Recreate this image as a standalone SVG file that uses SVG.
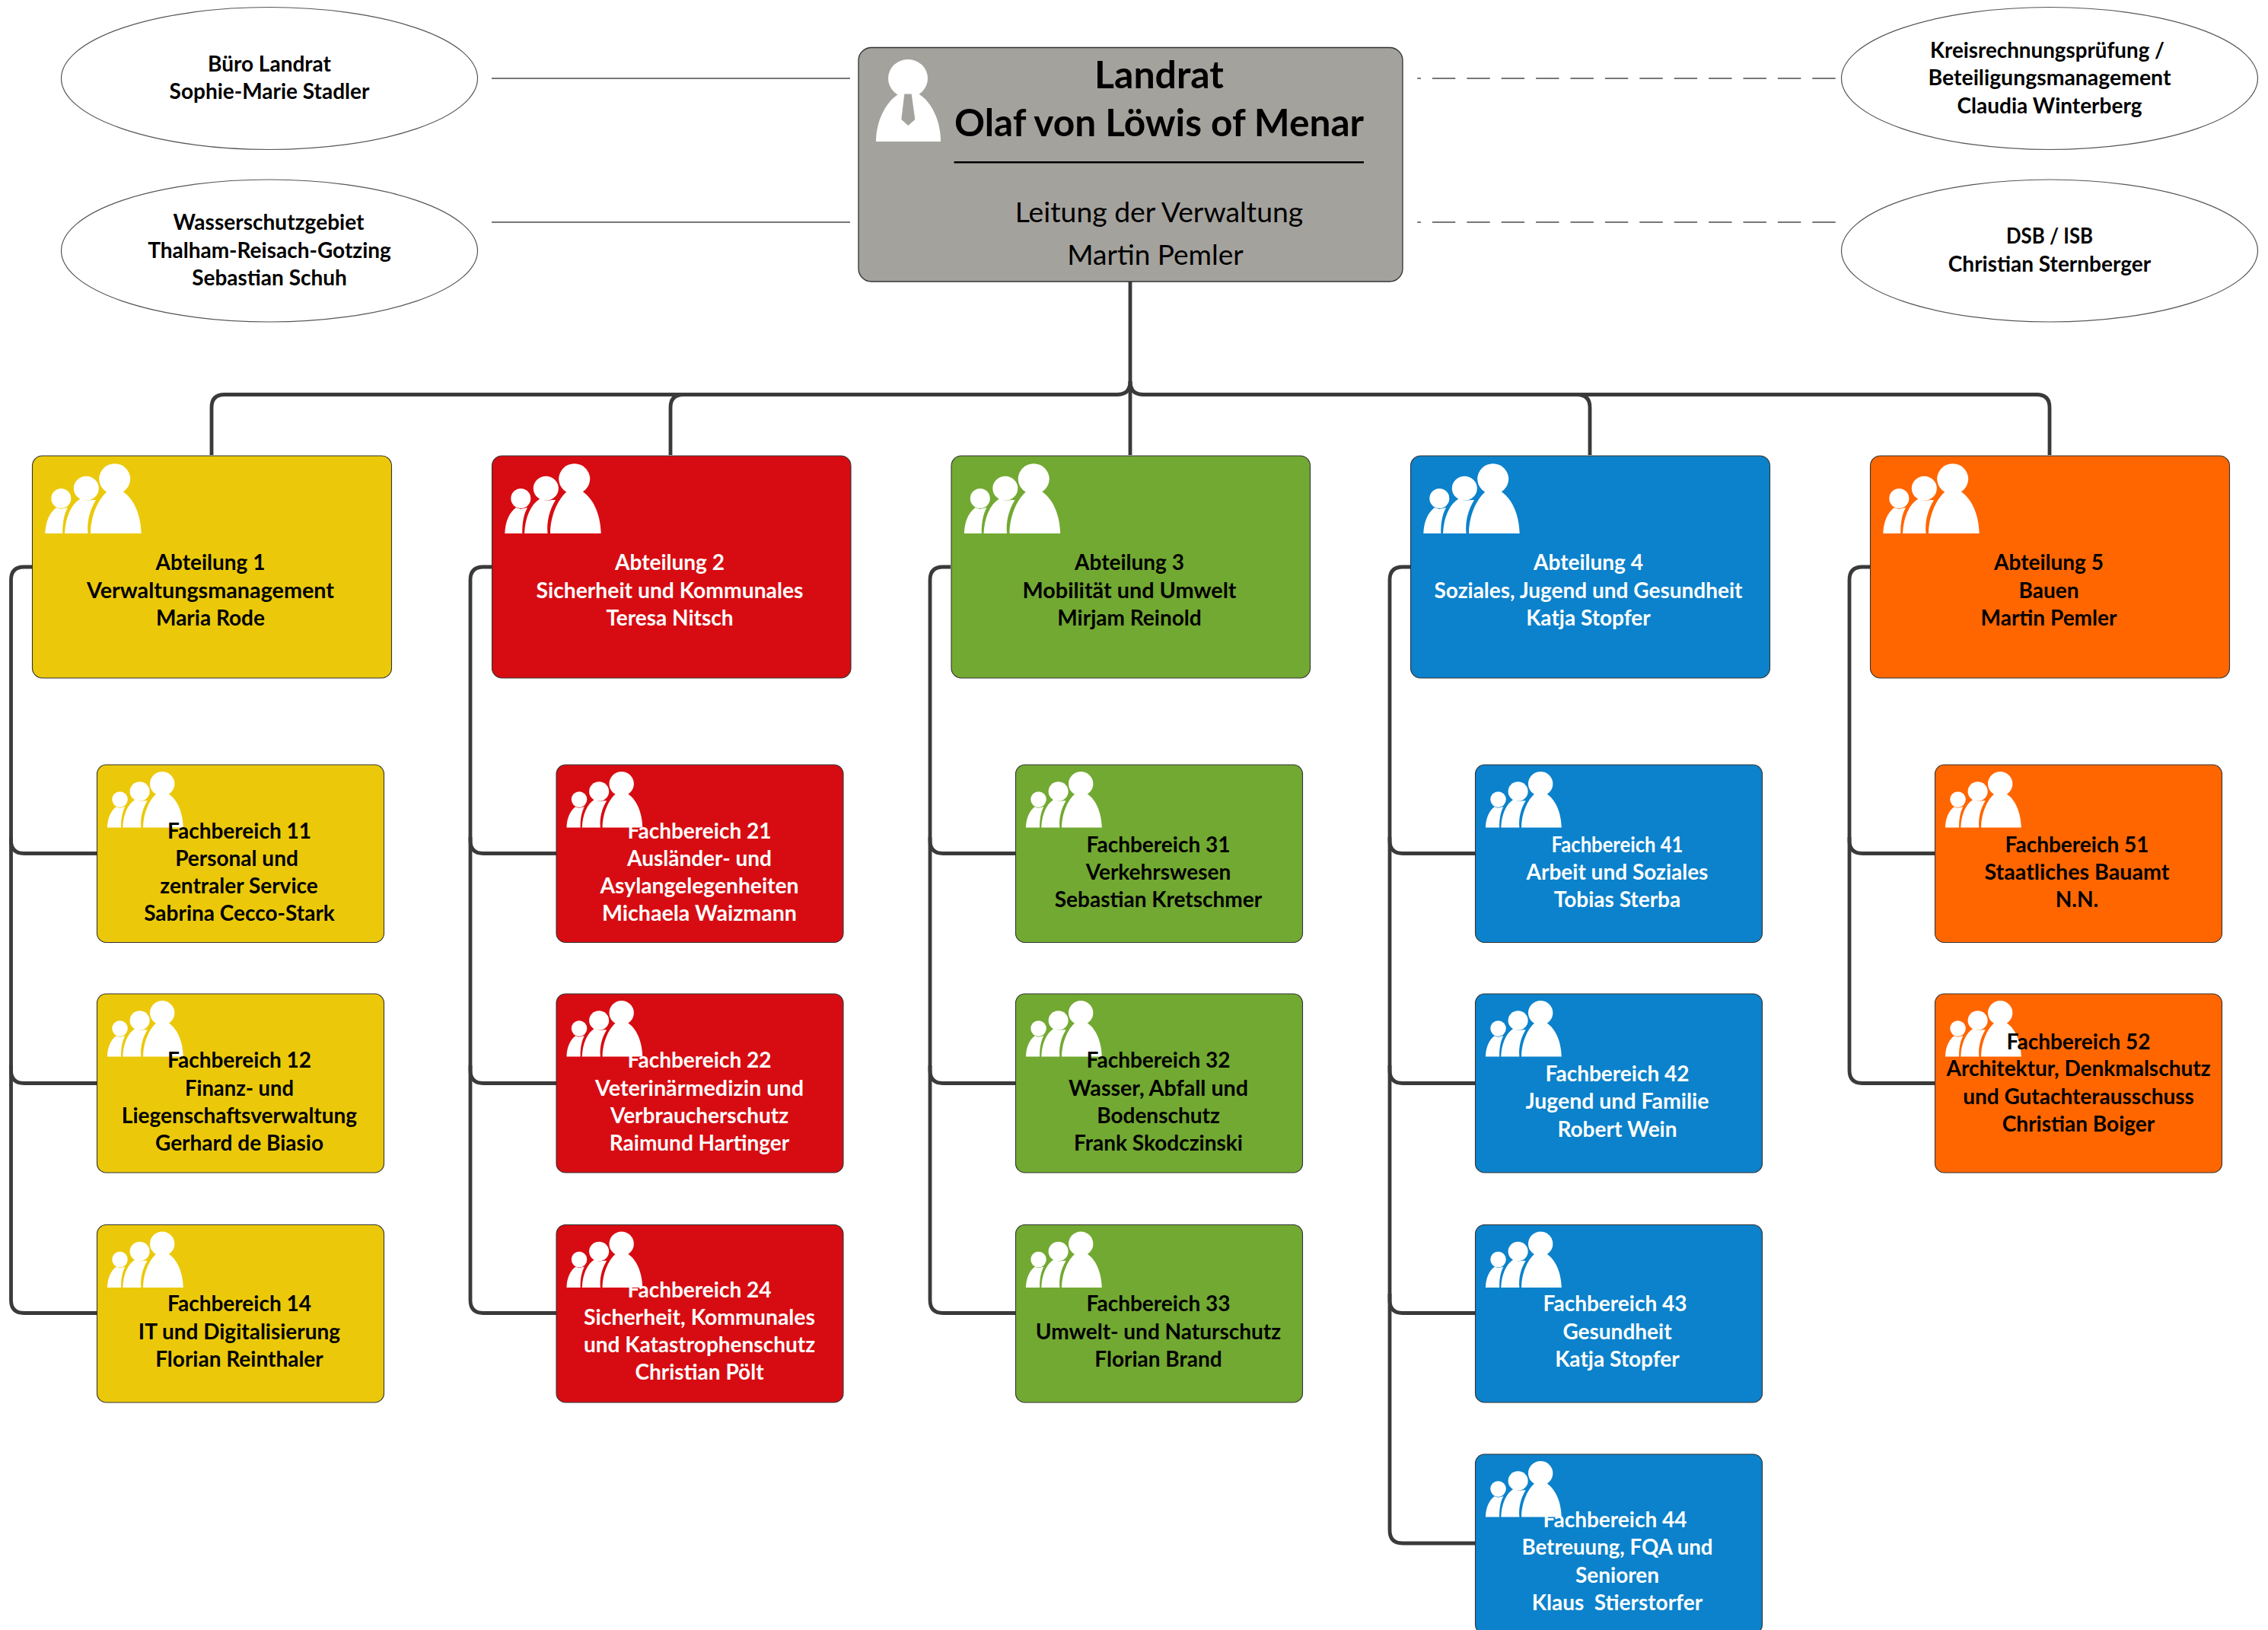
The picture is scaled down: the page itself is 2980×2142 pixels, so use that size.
<svg xmlns="http://www.w3.org/2000/svg" xmlns:xlink="http://www.w3.org/1999/xlink" width="2980" height="2142" viewBox="0 0 2980 2142">
<style>
text{font-family:"Lato","Open Sans","Liberation Sans",sans-serif;text-anchor:middle;transform:translateY(1.6px)}
.t{font-size:28px;font-weight:700}
.k{fill:#000}
.w{fill:#fff}
.box{stroke:#333;stroke-width:1.1}
.y{fill:#ebc90a}.r{fill:#d70c12}.g{fill:#72a932}.b{fill:#0b82cb}.o{fill:#ff6600}
.el{fill:#fff;stroke:#555;stroke-width:1.2}
.c{fill:none;stroke:#3a3a3a;stroke-width:4.8}
.s{fill:none;stroke:#777;stroke-width:2}
.d{fill:none;stroke:#777;stroke-width:2;stroke-dasharray:30.4 15;stroke-dashoffset:25.8}
</style>
<defs>
<g id="people" fill="#fff">
<ellipse cx="30.3" cy="55" rx="13" ry="13"/>
<path d="M9.3 101C10 85 15 74 24 67L30 69L39 67C34 76 32 88 32.3 101Z"/>
<ellipse cx="63.3" cy="41.7" rx="16.5" ry="16"/>
<path d="M35 101C36 80 43 63 56 55L63 58L72 57L76 57C68 70 64 85 65.5 101Z"/>
<ellipse cx="100.7" cy="29.3" rx="20.5" ry="20"/>
<path d="M69 101C69 80 78 56 92 45L100 47L110 45C125 54 135 75 135.7 101Z"/>
</g>
</defs>
<rect width="2980" height="2142" fill="#fff"/>
<g id="connectors">
<path class="s" d="M646 103H1117"/>
<path class="s" d="M646 292H1117"/>
<path class="d" d="M1862.3 103H2413"/>
<path class="d" d="M1862.3 292H2413"/>
<path class="c" d="M1485 370V598"/>
<path class="c" d="M278 598V535.5Q278 518.5 295 518.5H1468Q1485 518.5 1485 501"/>
<path class="c" d="M881 598V535.5Q881 518.5 898 518.5H1468"/>
<path class="c" d="M2693 598V535.5Q2693 518.5 2676 518.5H1502Q1485 518.5 1485 501"/>
<path class="c" d="M2089 598V535.5Q2089 518.5 2072 518.5H1502"/>
<path class="c" d="M42 745H31.5Q14.5 745 14.5 762V1104.5Q14.5 1121.5 31.5 1121.5H127.5"/>
<path class="c" d="M14.5 1100V1406.5Q14.5 1423.5 31.5 1423.5H127.5"/>
<path class="c" d="M14.5 1400V1708.5Q14.5 1725.5 31.5 1725.5H127.5"/>
<path class="c" d="M646 745H635Q618 745 618 762V1104.5Q618 1121.5 635 1121.5H731"/>
<path class="c" d="M618 1100V1406.5Q618 1423.5 635 1423.5H731"/>
<path class="c" d="M618 1400V1708.5Q618 1725.5 635 1725.5H731"/>
<path class="c" d="M1249 745H1239Q1222 745 1222 762V1104.5Q1222 1121.5 1239 1121.5H1334"/>
<path class="c" d="M1222 1100V1406.5Q1222 1423.5 1239 1423.5H1334"/>
<path class="c" d="M1222 1400V1708.5Q1222 1725.5 1239 1725.5H1334"/>
<path class="c" d="M1853 745H1843Q1826 745 1826 762V1104.5Q1826 1121.5 1843 1121.5H1938"/>
<path class="c" d="M1826 1100V1406.5Q1826 1423.5 1843 1423.5H1938"/>
<path class="c" d="M1826 1400V1708.5Q1826 1725.5 1843 1725.5H1938"/>
<path class="c" d="M1826 1700V2011Q1826 2028 1843 2028H1938"/>
<path class="c" d="M2457 745H2447Q2430 745 2430 762V1104.5Q2430 1121.5 2447 1121.5H2543"/>
<path class="c" d="M2430 1100V1406.5Q2430 1423.5 2447 1423.5H2543"/>
</g>
<g id="landrat">
<rect x="1128" y="62.5" width="715" height="307.5" rx="17" fill="#a4a29d" stroke="#333" stroke-width="1.3"/>
<ellipse cx="1193" cy="103" rx="26" ry="25" fill="#fff"/>
<path d="M1151 186C1151 160 1163 135 1180 124L1193 121L1208 124C1225 135 1236 160 1236 186Z" fill="#fff"/>
<path d="M1188.3 123.5H1197.7L1202.3 157L1193.3 165L1184.3 157Z" fill="#a4a29d"/>
<text x="1523" y="114" font-size="50" font-weight="700" fill="#000">Landrat</text>
<text x="1523" y="177" font-size="49.6" font-weight="700" fill="#000">Olaf von Löwis of Menar</text>
<path d="M1253.5 213.3H1792" stroke="#000" stroke-width="2.5"/>
<text x="1523" y="290" font-size="37.3" fill="#000">Leitung der Verwaltung</text>
<text x="1518" y="346" font-size="37" fill="#000">Martin Pemler</text>
</g>
<g id="buero">
<ellipse class="el" cx="354" cy="103" rx="273.5" ry="93.5"/>
<text class="t k" x="354" y="92">Büro Landrat</text>
<text class="t k" x="354" y="128">Sophie-Marie Stadler</text>
</g>
<g id="wasserschutz">
<ellipse class="el" cx="354" cy="329.5" rx="273.5" ry="93.5"/>
<text class="t k" x="353" y="300" textLength="251" lengthAdjust="spacingAndGlyphs">Wasserschutzgebiet</text>
<text class="t k" x="354" y="337">Thalham-Reisach-Gotzing</text>
<text class="t k" x="354" y="373">Sebastian Schuh</text>
</g>
<g id="kreisrechnung">
<ellipse class="el" cx="2693" cy="103" rx="273.5" ry="93.5"/>
<text class="t k" x="2690" y="74" textLength="308" lengthAdjust="spacingAndGlyphs">Kreisrechnungsprüfung /</text>
<text class="t k" x="2693" y="110" textLength="319" lengthAdjust="spacingAndGlyphs">Beteiligungsmanagement</text>
<text class="t k" x="2693" y="147">Claudia Winterberg</text>
</g>
<g id="dsb">
<ellipse class="el" cx="2693" cy="329.5" rx="273.5" ry="93.5"/>
<text class="t k" x="2693" y="318" textLength="114" lengthAdjust="spacingAndGlyphs">DSB / ISB</text>
<text class="t k" x="2693" y="355">Christian Sternberger</text>
</g>
<g id="abt1">
<rect class="box y" x="42.5" y="599" width="472" height="292" rx="13"/>
<use xlink:href="#people" href="#people" transform="translate(50 600)"/>
<text class="t k" x="276.5" y="747">Abteilung 1</text>
<text class="t k" x="276.5" y="784" textLength="325" lengthAdjust="spacingAndGlyphs">Verwaltungsmanagement</text>
<text class="t k" x="276.5" y="820">Maria Rode</text>
</g>
<g id="abt2">
<rect class="box r" x="646.5" y="599" width="471.5" height="292" rx="13"/>
<use xlink:href="#people" href="#people" transform="translate(654 600)"/>
<text class="t w" x="880" y="747">Abteilung 2</text>
<text class="t w" x="880" y="784" textLength="351" lengthAdjust="spacingAndGlyphs">Sicherheit und Kommunales</text>
<text class="t w" x="880" y="820">Teresa Nitsch</text>
</g>
<g id="abt3">
<rect class="box g" x="1250" y="599" width="471.5" height="292" rx="13"/>
<use xlink:href="#people" href="#people" transform="translate(1257.5 600)"/>
<text class="t k" x="1484" y="747">Abteilung 3</text>
<text class="t k" x="1484" y="784" textLength="281" lengthAdjust="spacingAndGlyphs">Mobilität und Umwelt</text>
<text class="t k" x="1484" y="820">Mirjam Reinold</text>
</g>
<g id="abt4">
<rect class="box b" x="1853.5" y="599" width="472" height="292" rx="13"/>
<use xlink:href="#people" href="#people" transform="translate(1861 600)"/>
<text class="t w" x="2087" y="747">Abteilung 4</text>
<text class="t w" x="2087" y="784">Soziales, Jugend und Gesundheit</text>
<text class="t w" x="2087" y="820">Katja Stopfer</text>
</g>
<g id="abt5">
<rect class="box o" x="2457.5" y="599" width="472" height="292" rx="13"/>
<use xlink:href="#people" href="#people" transform="translate(2465 600)"/>
<text class="t k" x="2692" y="747">Abteilung 5</text>
<text class="t k" x="2692" y="784">Bauen</text>
<text class="t k" x="2692" y="820">Martin Pemler</text>
</g>
<g id="fb11">
<rect class="box y" x="127.5" y="1005" width="377" height="233.5" rx="12"/>
<use xlink:href="#people" href="#people" transform="translate(133.6 1006.6) scale(.79 .8)"/>
<text class="t k" x="314.5" y="1100">Fachbereich 11</text>
<text class="t k" x="311" y="1136">Personal und</text>
<text class="t k" x="314" y="1172">zentraler Service</text>
<text class="t k" x="314.5" y="1208.5">Sabrina Cecco-Stark</text>
</g>
<g id="fb12">
<rect class="box y" x="127.5" y="1306" width="377" height="235" rx="12"/>
<use xlink:href="#people" href="#people" transform="translate(133.6 1307.6) scale(.79 .8)"/>
<text class="t k" x="314.5" y="1401.5">Fachbereich 12</text>
<text class="t k" x="314.5" y="1438" textLength="143" lengthAdjust="spacingAndGlyphs">Finanz- und</text>
<text class="t k" x="314.5" y="1474">Liegenschaftsverwaltung</text>
<text class="t k" x="314.5" y="1510.5">Gerhard de Biasio</text>
</g>
<g id="fb14">
<rect class="box y" x="127.5" y="1609.5" width="377" height="233.5" rx="12"/>
<use xlink:href="#people" href="#people" transform="translate(133.6 1611.1) scale(.79 .8)"/>
<text class="t k" x="314.5" y="1721.5">Fachbereich 14</text>
<text class="t k" x="314.5" y="1758">IT und Digitalisierung</text>
<text class="t k" x="314.5" y="1794">Florian Reinthaler</text>
</g>
<g id="fb21">
<rect class="box r" x="731" y="1005" width="377" height="233.5" rx="12"/>
<use xlink:href="#people" href="#people" transform="translate(737.1 1006.6) scale(.79 .8)"/>
<text class="t w" x="919" y="1100">Fachbereich 21</text>
<text class="t w" x="919" y="1136">Ausländer- und</text>
<text class="t w" x="919" y="1172" textLength="261" lengthAdjust="spacingAndGlyphs">Asylangelegenheiten</text>
<text class="t w" x="919" y="1208.5" textLength="256" lengthAdjust="spacingAndGlyphs">Michaela Waizmann</text>
</g>
<g id="fb22">
<rect class="box r" x="731" y="1306" width="377" height="235" rx="12"/>
<use xlink:href="#people" href="#people" transform="translate(737.1 1307.6) scale(.79 .8)"/>
<text class="t w" x="919" y="1401.5">Fachbereich 22</text>
<text class="t w" x="919" y="1438" textLength="274" lengthAdjust="spacingAndGlyphs">Veterinärmedizin und</text>
<text class="t w" x="919" y="1474">Verbraucherschutz</text>
<text class="t w" x="919" y="1510.5">Raimund Hartinger</text>
</g>
<g id="fb24">
<rect class="box r" x="731" y="1609.5" width="377" height="233.5" rx="12"/>
<use xlink:href="#people" href="#people" transform="translate(737.1 1611.1) scale(.79 .8)"/>
<text class="t w" x="919" y="1703">Fachbereich 24</text>
<text class="t w" x="919" y="1739" textLength="304" lengthAdjust="spacingAndGlyphs">Sicherheit, Kommunales</text>
<text class="t w" x="919" y="1775.5">und Katastrophenschutz</text>
<text class="t w" x="919" y="1811.5">Christian Pölt</text>
</g>
<g id="fb31">
<rect class="box g" x="1334.5" y="1005" width="377" height="233.5" rx="12"/>
<use xlink:href="#people" href="#people" transform="translate(1340.6 1006.6) scale(.79 .8)"/>
<text class="t k" x="1522" y="1118">Fachbereich 31</text>
<text class="t k" x="1522" y="1154">Verkehrswesen</text>
<text class="t k" x="1522" y="1190.5">Sebastian Kretschmer</text>
</g>
<g id="fb32">
<rect class="box g" x="1334.5" y="1306" width="377" height="235" rx="12"/>
<use xlink:href="#people" href="#people" transform="translate(1340.6 1307.6) scale(.79 .8)"/>
<text class="t k" x="1522" y="1401.5">Fachbereich 32</text>
<text class="t k" x="1522" y="1438" textLength="236" lengthAdjust="spacingAndGlyphs">Wasser, Abfall und</text>
<text class="t k" x="1522" y="1474">Bodenschutz</text>
<text class="t k" x="1522" y="1510.5">Frank Skodczinski</text>
</g>
<g id="fb33">
<rect class="box g" x="1334.5" y="1609.5" width="377" height="233.5" rx="12"/>
<use xlink:href="#people" href="#people" transform="translate(1340.6 1611.1) scale(.79 .8)"/>
<text class="t k" x="1522" y="1721.5">Fachbereich 33</text>
<text class="t k" x="1522" y="1758">Umwelt- und Naturschutz</text>
<text class="t k" x="1522" y="1794">Florian Brand</text>
</g>
<g id="fb41">
<rect class="box b" x="1938.5" y="1005" width="377" height="233.5" rx="12"/>
<use xlink:href="#people" href="#people" transform="translate(1944.6 1006.6) scale(.79 .8)"/>
<text class="t w" x="2125" y="1118" textLength="173" lengthAdjust="spacingAndGlyphs">Fachbereich 41</text>
<text class="t w" x="2125" y="1154">Arbeit und Soziales</text>
<text class="t w" x="2125" y="1190.5">Tobias Sterba</text>
</g>
<g id="fb42">
<rect class="box b" x="1938.5" y="1306" width="377" height="235" rx="12"/>
<use xlink:href="#people" href="#people" transform="translate(1944.6 1307.6) scale(.79 .8)"/>
<text class="t w" x="2125" y="1419.5">Fachbereich 42</text>
<text class="t w" x="2125" y="1455.5" textLength="241" lengthAdjust="spacingAndGlyphs">Jugend und Familie</text>
<text class="t w" x="2125" y="1492">Robert Wein</text>
</g>
<g id="fb43">
<rect class="box b" x="1938.5" y="1609.5" width="377" height="233.5" rx="12"/>
<use xlink:href="#people" href="#people" transform="translate(1944.6 1611.1) scale(.79 .8)"/>
<text class="t w" x="2122" y="1721.5">Fachbereich 43</text>
<text class="t w" x="2125" y="1758">Gesundheit</text>
<text class="t w" x="2125" y="1794">Katja Stopfer</text>
</g>
<g id="fb44">
<rect class="box b" x="1938.5" y="1911" width="377" height="236" rx="12"/>
<use xlink:href="#people" href="#people" transform="translate(1944.6 1912.6) scale(.79 .8)"/>
<text class="t w" x="2122" y="2005">Fachbereich 44</text>
<text class="t w" x="2125" y="2041" textLength="251" lengthAdjust="spacingAndGlyphs">Betreuung, FQA und</text>
<text class="t w" x="2125" y="2078">Senioren</text>
<text class="t w" x="2125" y="2114" xml:space="preserve">Klaus  Stierstorfer</text>
</g>
<g id="fb51">
<rect class="box o" x="2542.5" y="1005" width="377" height="233.5" rx="12"/>
<use xlink:href="#people" href="#people" transform="translate(2548.6 1006.6) scale(.79 .8)"/>
<text class="t k" x="2729" y="1118">Fachbereich 51</text>
<text class="t k" x="2729" y="1154" textLength="243" lengthAdjust="spacingAndGlyphs">Staatliches Bauamt</text>
<text class="t k" x="2729" y="1190">N.N.</text>
</g>
<g id="fb52">
<rect class="box o" x="2542.5" y="1306" width="377" height="235" rx="12"/>
<use xlink:href="#people" href="#people" transform="translate(2548.6 1307.6) scale(.79 .8)"/>
<text class="t k" x="2731" y="1377">Fachbereich 52</text>
<text class="t k" x="2731" y="1412.5">Architektur, Denkmalschutz</text>
<text class="t k" x="2731" y="1449">und Gutachterausschuss</text>
<text class="t k" x="2731" y="1485">Christian Boiger</text>
</g>
</svg>
